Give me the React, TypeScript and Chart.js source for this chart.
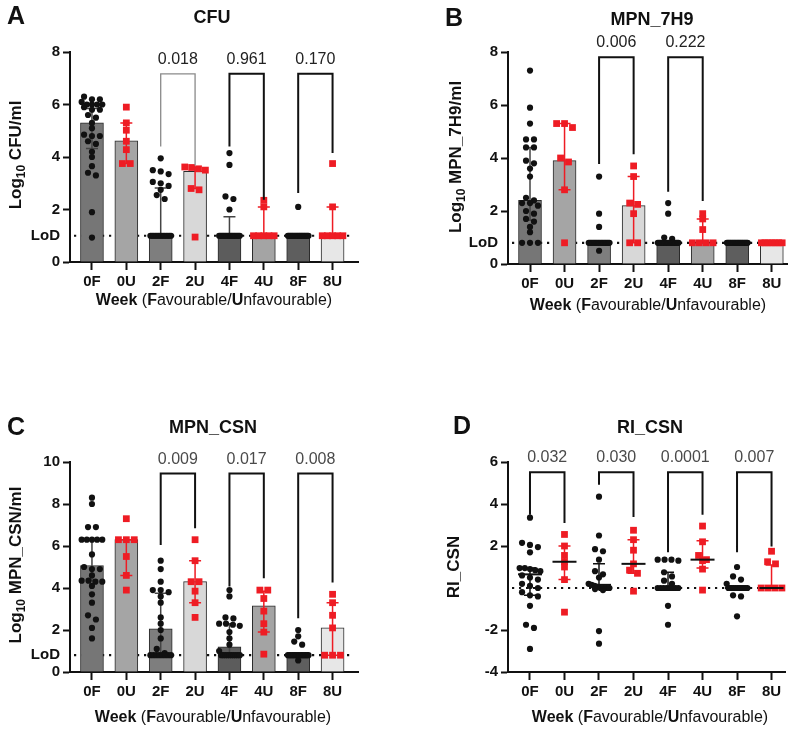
import React, { useEffect, useRef } from "react";
import { Chart, registerables } from "chart.js";

Chart.register(...registerables);

const FONT = "'Liberation Sans', Arial, Helvetica, sans-serif";
const RED = "#ee1c24";
const DARK = "#111111";

// ---------- shared categories ----------
const CATEGORIES = ["0F", "0U", "2F", "2U", "4F", "4U", "8F", "8U"];
const BAR_FILLS = ["#767676", "#a5a5a5", "#7e7e7e", "#d8d8d8", "#5c5c5c", "#a4a4a4", "#5e5e5e", "#e7e7e7"];
const PAIRS: number[][] = [[0, 1], [2, 3], [4, 5], [6, 7]];

const rep = (v: number, n: number) => Array.from({ length: n }, () => v);

// ---------- Panel A: CFU ----------
const cfuPoints: number[][] = [
  [6.3, 6.2, 6.2, 6.1, 6.0, 6.0, 6.0, 6.0, 5.9, 5.8, 5.8, 5.6, 5.5, 5.3, 5.1, 4.85, 4.8, 4.8, 4.6, 4.5, 4.2, 4.0, 3.65, 3.4, 3.3, 1.9, 0.93],
  [5.9, 5.3, 5.02, 4.6, 4.28, 3.75, 3.75],
  [3.95, 3.5, 3.45, 3.35, 3.05, 3.0, 2.9, 2.75, 2.55, 2.4, ...rep(1.0, 14)],
  [3.62, 3.6, 3.55, 3.5, 2.8, 2.75, 0.95],
  [4.15, 3.7, 2.5, 2.4, 2.0, ...rep(1.0, 17)],
  [2.35, 2.1, 1.0, 1.0, 1.0, 1.0, 1.0],
  [2.1, ...rep(1.0, 20)],
  [3.75, 2.1, 1.0, 1.0, 1.0, 1.0, 1.0],
];
const cfuMedian = [5.3, 4.62, 1.0, 3.45, 1.0, 1.0, 1.0, 1.0];
const cfuErrLo = [4.32, 3.75, 1.0, 2.8, 1.0, 1.0, 1.0, 1.0];
const cfuErrHi = [5.85, 5.3, 2.82, 3.6, 1.72, 2.1, 1.0, 2.1];
const cfuYTicks = [0, 1, 2, 4, 6, 8];
const cfuLoD = 1.0;
const cfuPValues = ["", "0.018", "0.961", "0.170"];
const cfuBracketTop = [0, 7.17, 7.17, 7.17];
const cfuLegLow = [[0, 0], [4.4, 3.68], [4.4, 2.37], [2.63, 4.15]];

// ---------- Panel B: MPN_7H9 ----------
const h9Points: number[][] = [
  [7.3, 5.9, 5.3, 4.7, 4.7, 4.4, 4.4, 3.9, 3.8, 3.6, 3.3, 2.5, 2.4, 2.3, 2.3, 2.2, 2.0, 1.9, 1.7, 1.6, 1.4, 1.2, 0.8, 0.8, 0.8],
  [5.3, 5.3, 5.15, 4.0, 3.85, 2.8, 0.8],
  [3.3, 1.9, 1.4, 0.5, ...rep(0.8, 16)],
  [3.7, 3.3, 2.3, 2.25, 1.9, 0.8, 0.8],
  [2.3, 1.9, 1.0, 0.95, ...rep(0.8, 16)],
  [1.9, 1.7, 1.3, 0.8, 0.8, 0.8, 0.8],
  rep(0.8, 20),
  rep(0.8, 7),
];
const h9Median = [2.4, 3.9, 0.8, 2.2, 0.8, 0.8, 0.8, 0.8];
const h9ErrLo = [1.65, 2.8, 0.8, 0.8, 0.8, 0.8, 0.8, 0.8];
const h9ErrHi = [4.4, 5.3, 0.8, 3.3, 0.8, 1.7, 0.8, 0.8];
const h9YTicks = [0, 0.8, 2, 4, 6, 8];
const h9LoD = 0.8;
const h9PValues = ["", "0.006", "0.222", ""];
const h9BracketTop = [0, 7.8, 7.8, 0];
const h9LegLow = [[0, 0], [3.77, 4.14], [2.73, 2.38], [0, 0]];

// ---------- Panel C: MPN_CSN ----------
const csnPoints: number[][] = [
  [8.3, 8.0, 6.9, 6.9, 6.3, 6.3, 6.3, 6.3, 6.3, 5.6, 5.0, 4.9, 4.9, 4.6, 4.35, 4.35, 4.3, 4.3, 4.1, 3.7, 3.3, 2.7, 2.5, 2.1, 1.6],
  [7.3, 6.3, 6.3, 6.3, 5.5, 4.6, 3.9],
  [5.3, 4.9, 4.3, 3.9, 3.9, 3.8, 3.6, 3.3, 2.6, 2.3, 2.0, 1.6, 1.1, 0.9, ...rep(0.8, 8)],
  [6.3, 5.3, 4.3, 4.3, 3.85, 3.3, 2.6],
  [3.9, 3.6, 2.6, 2.55, 2.3, 2.3, 2.25, 2.2, 1.9, 1.6, 1.3, 1.0, ...rep(0.8, 10)],
  [3.9, 3.9, 3.5, 2.9, 2.3, 1.9, 0.85],
  [2.0, 1.7, 1.45, 1.3, ...rep(0.8, 15), 0.55],
  [3.7, 3.3, 2.7, 2.1, 0.8, 0.8, 0.8],
];
const csnMedian = [5.07, 6.3, 2.05, 4.3, 1.2, 3.15, 0.8, 2.1];
const csnErrLo = [4.35, 4.6, 0.8, 3.3, 0.8, 1.9, 0.8, 0.8];
const csnErrHi = [6.3, 6.3, 3.75, 5.3, 2.3, 3.85, 0.8, 3.3];
const csnYTicks = [0, 0.8, 2, 4, 6, 8, 10];
const csnLoD = 0.8;
const csnPValues = ["", "0.009", "0.017", "0.008"];
const csnBracketTop = [0, 9.45, 9.45, 9.45];
const csnLegLow = [[0, 0], [6.05, 6.84], [4.07, 4.46], [2.56, 4.26]];

// ---------- Panel D: RI_CSN ----------
const riPoints: number[][] = [
  [3.35, 2.15, 2.05, 1.95, 1.7, 0.95, 0.95, 0.9, 0.85, 0.8, 0.6, 0.5, 0.4, 0.2, 0.1, 0.0, -0.2, -0.35, -0.4, -0.85, -1.75, -1.9, -2.9],
  [2.55, 2.0, 1.55, 1.25, 1.0, 0.4, -1.15],
  [4.35, 2.5, 1.85, 1.75, 1.35, 0.8, 0.65, 0.5, 0.2, 0.15, 0.1, 0.05, 0.0, 0.0, 0.0, 0.0, -0.05, -0.1, -2.05, -2.65],
  [2.75, 2.3, 1.8, 1.15, 0.85, 0.7, -0.15],
  [1.35, 1.35, 1.35, 1.3, 0.75, 0.55, 0.35, 0.2, ...rep(0.0, 8), -0.85, -1.75],
  [2.95, 2.2, 1.55, 1.35, 1.3, 0.9, -0.1],
  [1.0, 0.55, 0.4, 0.2, ...rep(0.0, 12), -0.35, -0.4, -1.35],
  [1.75, 1.25, 1.15, 0.0, 0.0, 0.0, 0.0],
];
const riMedian = [0.65, 1.25, 0.15, 1.15, 0.0, 1.35, 0.0, 0.0];
const riErrLo = [-0.35, 0.4, 0.0, 0.7, 0.0, 0.95, 0.0, 0.0];
const riErrHi = [0.95, 2.0, 1.15, 2.3, 0.75, 2.25, 0.0, 1.1];
const riYTicks = [-4, -2, 2, 4, 6];
const riRefLine = 0;
const riPValues = ["0.032", "0.030", "0.0001", "0.007"];
const riBracketTop = [5.51, 5.51, 5.51, 5.51];
const riLegLow = [[3.49, 3.1], [4.92, 3.38], [1.7, 3.49], [1.7, 1.98]];

// ---------- helpers ----------
function swarm(values: number[], thr: number): number[] {
  const order = values.map((_, i) => i).sort((a, b) => values[b] - values[a]);
  const off = new Array(values.length).fill(0);
  let group: number[] = [];
  const flush = () => {
    const n = group.length;
    const sp = n > 1 ? Math.min(0.23, 0.6 / (n - 1)) : 0;
    group.forEach((k, j) => (off[k] = (j - (n - 1) / 2) * sp));
    group = [];
  };
  for (const k of order) {
    if (group.length && values[group[0]] - values[k] >= thr) flush();
    group.push(k);
  }
  flush();
  return off;
}

type Layout = {
  left: number; top: number; width: number; height: number;
  aL: number; aR: number; aT: number; aB: number;
  xMin: number; xMax: number;
  letter: [number, number]; title: [number, number]; yTitle: [number, number]; xTitle: [number, number];
};

type PanelCfg = {
  letter: string; title: string;
  yTitle: [string, string, string];
  yMin: number; yMax: number; yTicks: number[];
  refLine: number; lodLabel: boolean;
  points: number[][]; median: number[]; errLo: number[]; errHi: number[];
  bars: boolean;
  pValues: string[]; bracketTop: number[]; legLow: number[][];
  faintFirst: boolean; pColor: string;
  layout: Layout;
};

const X_H = 40;

function drawYTitle(ctx: CanvasRenderingContext2D, cx: number, cy: number, parts: [string, string, string], size: number) {
  ctx.save();
  ctx.translate(cx, cy);
  ctx.rotate(-Math.PI / 2);
  const fMain = `bold ${size}px ${FONT}`;
  const fSub = `bold ${Math.round(size * 0.68)}px ${FONT}`;
  ctx.font = fMain;
  const w1 = ctx.measureText(parts[0]).width;
  const w3 = ctx.measureText(parts[2]).width;
  ctx.font = fSub;
  const w2 = parts[1] ? ctx.measureText(parts[1]).width : 0;
  const total = w1 + w2 + w3;
  let x = -total / 2;
  const base = size * 0.36;
  ctx.fillStyle = DARK;
  ctx.textAlign = "left";
  ctx.textBaseline = "alphabetic";
  ctx.font = fMain;
  ctx.fillText(parts[0], x, base);
  x += w1;
  if (parts[1]) {
    ctx.font = fSub;
    ctx.fillText(parts[1], x, base + size * 0.22);
    x += w2;
  }
  ctx.font = fMain;
  ctx.fillText(parts[2], x, base);
  ctx.restore();
}

const X_TITLE: [string, boolean][] = [
  ["Week", true], [" (", false], ["F", true], ["avourable/", false], ["U", true], ["nfavourable)", false],
];

function drawXTitle(ctx: CanvasRenderingContext2D, cx: number, cy: number, size: number) {
  ctx.save();
  const fonts = X_TITLE.map(([, b]) => `${b ? "bold" : "normal"} ${size}px ${FONT}`);
  let total = 0;
  const widths = X_TITLE.map(([t], i) => {
    ctx.font = fonts[i];
    const w = ctx.measureText(t).width;
    total += w;
    return w;
  });
  let x = cx - total / 2;
  ctx.fillStyle = DARK;
  ctx.textAlign = "left";
  ctx.textBaseline = "middle";
  X_TITLE.forEach(([t], i) => {
    ctx.font = fonts[i];
    ctx.fillText(t, x, cy);
    x += widths[i];
  });
  ctx.restore();
}

function Panel({ cfg }: { cfg: PanelCfg }) {
  const ref = useRef<HTMLCanvasElement>(null);
  useEffect(() => {
    const L = cfg.layout;
    const thr = (cfg.yMax - cfg.yMin) * 0.021;
    const fPts: { x: number; y: number }[] = [];
    const uPts: { x: number; y: number }[] = [];
    cfg.points.forEach((vals, i) => {
      const off = swarm(vals, thr);
      vals.forEach((v, k) => (i % 2 === 0 ? fPts : uPts).push({ x: i + off[k], y: v }));
    });

    const datasets: any[] = [
      { type: "scatter", data: fPts, pointStyle: "circle", pointRadius: 3.1, backgroundColor: DARK, borderWidth: 0, clip: false },
      { type: "scatter", data: uPts, pointStyle: "rect", pointRadius: 4.8, backgroundColor: RED, borderWidth: 0, clip: false },
    ];
    if (cfg.bars) {
      datasets.push({
        type: "bar",
        data: cfg.median.map((m, i) => ({ x: i, y: m })),
        backgroundColor: BAR_FILLS,
        borderColor: "#2a2a2a",
        borderWidth: 1,
        barThickness: 23,
      });
    }

    const drawErrors = (chart: any, withMedian: boolean) => {
      const ctx = chart.ctx as CanvasRenderingContext2D;
      const xs = chart.scales.x, ys = chart.scales.y;
      ctx.save();
      cfg.median.forEach((m, i) => {
        const x = xs.getPixelForValue(i);
        const col = i % 2 === 0 ? (cfg.bars ? "#444" : DARK) : RED;
        const lo = ys.getPixelForValue(cfg.errLo[i]);
        const hi = ys.getPixelForValue(cfg.errHi[i]);
        if (Math.abs(lo - hi) > 0.5) {
          ctx.strokeStyle = col;
          ctx.lineWidth = 1.5;
          ctx.beginPath();
          ctx.moveTo(x, lo); ctx.lineTo(x, hi);
          ctx.moveTo(x - 6, lo); ctx.lineTo(x + 6, lo);
          ctx.moveTo(x - 6, hi); ctx.lineTo(x + 6, hi);
          ctx.stroke();
        }
        if (withMedian) {
          const y = ys.getPixelForValue(m);
          ctx.strokeStyle = DARK;
          ctx.lineWidth = 2;
          ctx.beginPath();
          ctx.moveTo(x - 12, y); ctx.lineTo(x + 12, y);
          ctx.stroke();
        }
      });
      ctx.restore();
    };

    const plugin = {
      id: "panelDecor",
      beforeDatasetsDraw(chart: any) {
        const ctx = chart.ctx as CanvasRenderingContext2D;
        const ys = chart.scales.y;
        const a = chart.chartArea;
        const y = ys.getPixelForValue(cfg.refLine);
        ctx.save();
        ctx.strokeStyle = DARK;
        ctx.lineWidth = 2.2;
        ctx.setLineDash([2.2, 4.8]);
        ctx.beginPath();
        ctx.moveTo(a.left + 4, y);
        ctx.lineTo(a.right - 4, y);
        ctx.stroke();
        ctx.restore();
      },
      afterDatasetDraw(chart: any, args: any) {
        if (cfg.bars && args.index === 2) drawErrors(chart, false);
      },
      afterDatasetsDraw(chart: any) {
        if (!cfg.bars) drawErrors(chart, true);
        const ctx = chart.ctx as CanvasRenderingContext2D;
        const xs = chart.scales.x, ys = chart.scales.y;
        ctx.save();
        PAIRS.forEach(([a, b], k) => {
          const p = cfg.pValues[k];
          if (!p) return;
          const xa = xs.getPixelForValue(a), xb = xs.getPixelForValue(b);
          const yt = ys.getPixelForValue(cfg.bracketTop[k]);
          const ya = ys.getPixelForValue(cfg.legLow[k][0]);
          const yb = ys.getPixelForValue(cfg.legLow[k][1]);
          const faint = cfg.faintFirst && k === 1;
          ctx.strokeStyle = faint ? "#8a8a8a" : DARK;
          ctx.lineWidth = faint ? 1.3 : 2;
          ctx.lineJoin = "miter";
          ctx.beginPath();
          ctx.moveTo(xa, ya); ctx.lineTo(xa, yt); ctx.lineTo(xb, yt); ctx.lineTo(xb, yb);
          ctx.stroke();
          ctx.fillStyle = cfg.pColor;
          ctx.font = `normal 16px ${FONT}`;
          ctx.textAlign = "center";
          ctx.textBaseline = "alphabetic";
          ctx.fillText(p, (xa + xb) / 2, yt - 10);
        });
        ctx.restore();
      },
      afterDraw(chart: any) {
        const ctx = chart.ctx as CanvasRenderingContext2D;
        ctx.save();
        ctx.fillStyle = DARK;
        ctx.textBaseline = "middle";
        ctx.textAlign = "left";
        ctx.font = `bold 25px ${FONT}`;
        ctx.fillText(cfg.letter, L.letter[0], L.letter[1]);
        ctx.textAlign = "center";
        ctx.font = `bold 18px ${FONT}`;
        ctx.fillText(cfg.title, L.title[0], L.title[1]);
        ctx.restore();
        drawYTitle(ctx, L.yTitle[0], L.yTitle[1], cfg.yTitle, 17);
        drawXTitle(ctx, L.xTitle[0], L.xTitle[1], 16);
      },
    };

    const tickFont = { family: FONT, size: 15, weight: "bold" as const };
    const chart = new Chart(ref.current as HTMLCanvasElement, {
      type: "scatter",
      data: { datasets },
      plugins: [plugin],
      options: {
        responsive: false,
        maintainAspectRatio: false,
        animation: false,
        events: [],
        layout: { padding: { left: 0, top: L.aT, right: L.width - L.aR, bottom: L.height - L.aB - X_H } },
        plugins: { legend: { display: false }, tooltip: { enabled: false }, title: { display: false } },
        scales: {
          x: {
            type: "linear",
            min: L.xMin,
            max: L.xMax,
            offset: false,
            afterBuildTicks: (s: any) => { s.ticks = CATEGORIES.map((_, i) => ({ value: i })); },
            afterFit: (s: any) => { s.height = X_H; },
            ticks: {
              callback: (v: any) => CATEGORIES[Math.round(Number(v))] ?? "",
              font: tickFont, color: DARK, padding: 3, maxRotation: 0, autoSkip: false,
            },
            grid: { offset: false, drawOnChartArea: false, drawTicks: true, tickLength: 8, tickWidth: 2, tickColor: DARK },
            border: { display: true, color: DARK, width: 2 },
          },
          y: {
            type: "linear",
            min: cfg.yMin,
            max: cfg.yMax,
            afterBuildTicks: (s: any) => { s.ticks = cfg.yTicks.map((v) => ({ value: v })); },
            afterFit: (s: any) => { s.width = L.aL; },
            ticks: {
              callback: (v: any) => (cfg.lodLabel && v === cfg.refLine ? "LoD" : String(v)),
              font: tickFont, color: DARK, padding: 3,
            },
            grid: {
              drawOnChartArea: false, drawTicks: true, tickLength: 7, tickWidth: 2,
              tickColor: (c: any) => (cfg.lodLabel && c.tick && c.tick.value === cfg.refLine ? "rgba(0,0,0,0)" : DARK),
            },
            border: { display: true, color: DARK, width: 2 },
          },
        },
      } as any,
    });
    return () => chart.destroy();
  }, [cfg]);
  const L = cfg.layout;
  return (
    <canvas
      ref={ref}
      width={L.width}
      height={L.height}
      style={{ position: "absolute", left: L.left, top: L.top, width: L.width, height: L.height }}
    />
  );
}

const PANELS: PanelCfg[] = [
  {
    letter: "A", title: "CFU", yTitle: ["Log", "10", " CFU/ml"],
    yMin: 0, yMax: 8, yTicks: cfuYTicks, refLine: cfuLoD, lodLabel: true,
    points: cfuPoints, median: cfuMedian, errLo: cfuErrLo, errHi: cfuErrHi, bars: true,
    pValues: cfuPValues, bracketTop: cfuBracketTop, legLow: cfuLegLow, faintFirst: true, pColor: "#222",
    layout: { left: 0, top: 0, width: 400, height: 365, aL: 70, aR: 358, aT: 52, aB: 262, xMin: -0.639, xMax: 7.74,
      letter: [7, 17], title: [212, 18], yTitle: [15, 155], xTitle: [214, 301] },
  },
  {
    letter: "B", title: "MPN_7H9", yTitle: ["Log", "10", " MPN_7H9/ml"],
    yMin: 0, yMax: 8, yTicks: h9YTicks, refLine: h9LoD, lodLabel: true,
    points: h9Points, median: h9Median, errLo: h9ErrLo, errHi: h9ErrHi, bars: true,
    pValues: h9PValues, bracketTop: h9BracketTop, legLow: h9LegLow, faintFirst: false, pColor: "#222",
    layout: { left: 400, top: 0, width: 399, height: 365, aL: 108, aR: 387, aT: 52, aB: 264, xMin: -0.637, xMax: 7.44,
      letter: [45, 19], title: [252, 20], yTitle: [55, 157], xTitle: [248, 306] },
  },
  {
    letter: "C", title: "MPN_CSN", yTitle: ["Log", "10", " MPN_CSN/ml"],
    yMin: 0, yMax: 10, yTicks: csnYTicks, refLine: csnLoD, lodLabel: true,
    points: csnPoints, median: csnMedian, errLo: csnErrLo, errHi: csnErrHi, bars: true,
    pValues: csnPValues, bracketTop: csnBracketTop, legLow: csnLegLow, faintFirst: false, pColor: "#4a4a4a",
    layout: { left: 0, top: 365, width: 400, height: 366, aL: 70, aR: 358, aT: 97, aB: 307, xMin: -0.639, xMax: 7.74,
      letter: [7, 63], title: [213, 63], yTitle: [15, 200], xTitle: [213, 353] },
  },
  {
    letter: "D", title: "RI_CSN", yTitle: ["RI_CSN", "", ""],
    yMin: -4, yMax: 6, yTicks: riYTicks, refLine: riRefLine, lodLabel: false,
    points: riPoints, median: riMedian, errLo: riErrLo, errHi: riErrHi, bars: false,
    pValues: riPValues, bracketTop: riBracketTop, legLow: riLegLow, faintFirst: false, pColor: "#4a4a4a",
    layout: { left: 400, top: 365, width: 399, height: 366, aL: 108, aR: 385, aT: 97, aB: 307, xMin: -0.637, xMax: 7.39,
      letter: [53, 62], title: [250, 63], yTitle: [53, 202], xTitle: [250, 353] },
  },
];

export default function App() {
  return (
    <div style={{ position: "absolute", left: 0, top: 0, width: 799, height: 731, background: "#ffffff", overflow: "hidden" }}>
      {PANELS.map((p) => (
        <Panel key={p.letter} cfg={p} />
      ))}
    </div>
  );
}
